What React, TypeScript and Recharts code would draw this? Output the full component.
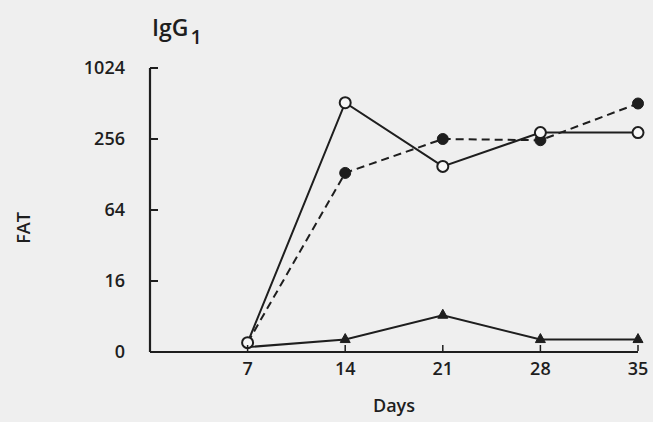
import { LineChart, Line, XAxis, YAxis } from "recharts";

// antibody titres (FAT) by day after immunisation; 0 titre is plotted at the 4 line
const days = [7, 14, 21, 28, 35];
const openCircle = [4.8, 520, 150, 290, 290];
const filledCircle = [4.8, 132, 256, 250, 512];
const triangle = [4.4, 5.1, 8.2, 5.1, 5.1];

const yTicks = [4, 16, 64, 256, 1024];
const yTickLabels = ["0", "16", "64", "256", "1024"];

const data = days.map((d, i) => ({
  day: d,
  open: openCircle[i],
  filled: filledCircle[i],
  tri: triangle[i],
}));

const ink = "#1e1e1e";
const font = "'Open Sans', sans-serif";

// tick marks point into the plot, labels sit well left of the axis
const YTick = ({ x, y, payload }: any) => {
  const idx = yTicks.indexOf(payload.value);
  return (
    <g>
      {idx > 0 && <line x1={x} x2={x + 8} y1={y} y2={y} stroke={ink} strokeWidth={2} />}
      <text x={x - 25} y={y + 6} textAnchor="end" fontSize={18} fontWeight={600} fill={ink} fontFamily={font}>
        {yTickLabels[idx]}
      </text>
    </g>
  );
};

const XTick = ({ x, y, payload }: any) => (
  <g>
    <line x1={x} x2={x} y1={y - 1} y2={y - 7} stroke={ink} strokeWidth={1.5} />
    <text x={x} y={y + 23} textAnchor="middle" fontSize={18} fontWeight={600} fill={ink} fontFamily={font}>
      {payload.value}
    </text>
  </g>
);

const OpenDot = ({ cx, cy }: any) => (
  <circle cx={cx} cy={cy} r={5.5} fill="#f7f7f7" stroke={ink} strokeWidth={2} />
);

const FilledDot = ({ cx, cy, index }: any) =>
  index === 0 ? null : <circle cx={cx} cy={cy} r={5.5} fill={ink} stroke={ink} />;

const TriDot = ({ cx, cy, index }: any) =>
  index === 0 ? null : (
    <polygon
      points={`${cx},${cy - 6} ${cx - 5},${cy + 3} ${cx + 5},${cy + 3}`}
      fill={ink}
      stroke={ink}
    />
  );

export default function App() {
  return (
    <div
      style={{
        position: "absolute",
        left: 0,
        top: 0,
        width: 653,
        height: 422,
        background: "#efefef",
      }}
    >
      <LineChart width={653} height={422} data={data} margin={{ top: 68, right: 15, bottom: 30, left: 90 }}>
        <text x={152} y={36} fontSize={23} fontWeight={600} fill={ink} fontFamily={font}>
          IgG
          <tspan dx={2} dy={8} fontSize={20}>1</tspan>
        </text>
        <text
          x={30}
          y={228}
          transform="rotate(-90 30 228)"
          textAnchor="middle"
          fontSize={18}
          fontWeight={600}
          fill={ink}
          fontFamily={font}
        >
          FAT
        </text>
        <text x={394} y={412} textAnchor="middle" fontSize={18} fontWeight={600} fill={ink} fontFamily={font}>
          Days
        </text>
        <XAxis
          dataKey="day"
          type="number"
          domain={[0, 35]}
          ticks={days}
          height={40}
          tickSize={0}
          tickMargin={0}
          tickLine={false}
          tick={<XTick />}
          axisLine={{ stroke: ink, strokeWidth: 2.2 }}
        />
        <YAxis
          scale="log"
          domain={[4, 1024]}
          ticks={yTicks}
          width={60}
          tickSize={0}
          tickMargin={0}
          tickLine={false}
          tick={<YTick />}
          axisLine={{ stroke: ink, strokeWidth: 2.2 }}
          allowDataOverflow
        />
        <Line
          dataKey="tri"
          stroke={ink}
          strokeWidth={2}
          dot={<TriDot />}
          isAnimationActive={false}
        />
        <Line
          dataKey="filled"
          stroke={ink}
          strokeWidth={2}
          strokeDasharray="8 5"
          dot={<FilledDot />}
          isAnimationActive={false}
        />
        <Line
          dataKey="open"
          stroke={ink}
          strokeWidth={2}
          dot={<OpenDot />}
          isAnimationActive={false}
        />
      </LineChart>
    </div>
  );
}
